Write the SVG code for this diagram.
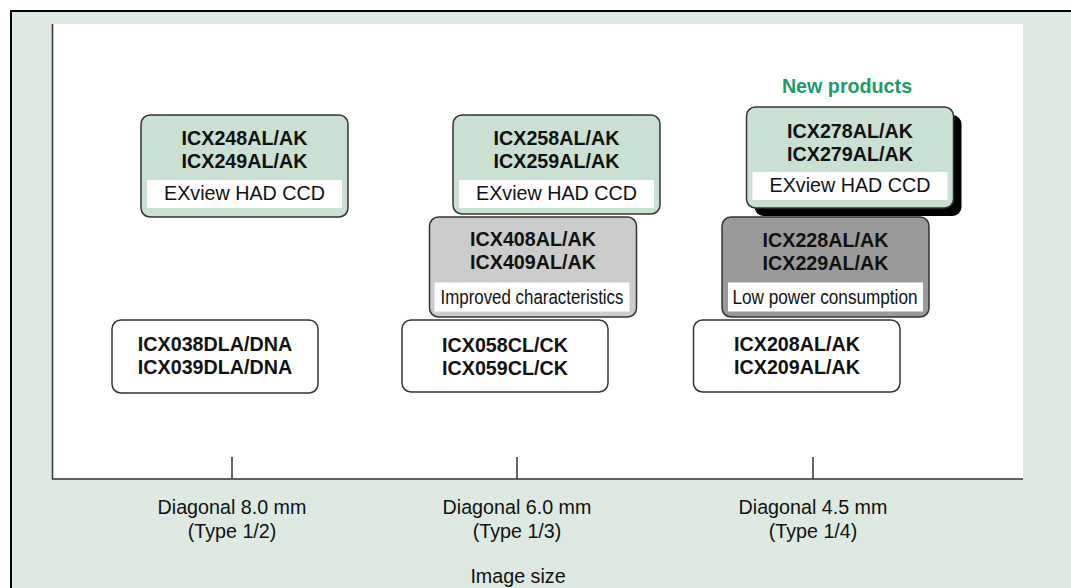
<svg xmlns="http://www.w3.org/2000/svg" width="1071" height="588" viewBox="0 0 1071 588">
<style>
text{font-family:"Liberation Sans",Arial,sans-serif;font-size:19.7px;fill:#111;text-anchor:middle}
.b{font-weight:bold}
.box{stroke:#333;stroke-width:1.5}
.g{fill:#c9e0d3}
.w{fill:#ffffff}
.lg{fill:#cccccc}
.dg{fill:#9a9a9a}
.strip{fill:#ffffff}
.ax{stroke:#333;stroke-width:1.5;fill:none}
</style>
<rect x="0" y="0" width="1071" height="588" fill="#ffffff"/>
<rect x="11" y="11" width="1080" height="600" fill="#dde9e1" stroke="#000" stroke-width="2"/>
<rect x="53" y="24" width="970" height="455" fill="#ffffff"/>
<g id="axes">
<path class="ax" d="M52.5 24 V479 H1023"/>
<path class="ax" d="M232 457 V479 M517 457 V479 M813 457 V479"/>
<text x="232" y="514">Diagonal 8.0 mm</text>
<text x="232" y="538">(Type 1/2)</text>
<text x="517" y="514">Diagonal 6.0 mm</text>
<text x="517" y="538">(Type 1/3)</text>
<text x="813" y="514">Diagonal 4.5 mm</text>
<text x="813" y="538">(Type 1/4)</text>
<text x="518" y="583">Image size</text>
</g>
<g id="connectors"></g>
<g id="n-icx038">
<rect class="box w" x="112" y="320" width="206" height="73" rx="9"/>
<text class="b" x="215" y="351">ICX038DLA/DNA</text>
<text class="b" x="215" y="374">ICX039DLA/DNA</text>
</g>
<g id="n-icx248">
<rect class="box g" x="141" y="115" width="207" height="102" rx="9"/>
<text class="b" x="244.5" y="145">ICX248AL/AK</text>
<text class="b" x="244.5" y="168">ICX249AL/AK</text>
<rect class="strip" x="147" y="180" width="195" height="28"/>
<text x="244.5" y="200">EXview HAD CCD</text>
</g>
<g id="n-icx058">
<rect class="box w" x="402" y="320" width="206" height="72" rx="9"/>
<text class="b" x="505" y="352">ICX058CL/CK</text>
<text class="b" x="505" y="375">ICX059CL/CK</text>
</g>
<g id="n-icx258">
<rect class="box g" x="453" y="115" width="207" height="99" rx="9"/>
<text class="b" x="556.5" y="145">ICX258AL/AK</text>
<text class="b" x="556.5" y="168">ICX259AL/AK</text>
<rect class="strip" x="459" y="180" width="195" height="28"/>
<text x="556.5" y="200">EXview HAD CCD</text>
</g>
<g id="n-icx408">
<rect class="box lg" x="429.5" y="217" width="207" height="100" rx="9"/>
<text class="b" x="533" y="246">ICX408AL/AK</text>
<text class="b" x="533" y="269">ICX409AL/AK</text>
<rect class="strip" x="434.5" y="282.5" width="195" height="29"/>
<text x="532" y="303.5" textLength="183" lengthAdjust="spacingAndGlyphs">Improved characteristics</text>
</g>
<g id="n-icx208">
<rect class="box w" x="693.5" y="320" width="206.5" height="72" rx="9"/>
<text class="b" x="797" y="351">ICX208AL/AK</text>
<text class="b" x="797" y="374">ICX209AL/AK</text>
</g>
<g id="n-icx228">
<rect class="box dg" x="722" y="217" width="207" height="100" rx="9"/>
<text class="b" x="825.5" y="247">ICX228AL/AK</text>
<text class="b" x="825.5" y="270">ICX229AL/AK</text>
<rect class="strip" x="728" y="282.5" width="195" height="29"/>
<text x="825" y="303.5" textLength="185" lengthAdjust="spacingAndGlyphs">Low power consumption</text>
</g>
<g id="n-icx278">
<text class="b" x="847" y="92.5" style="fill:#1e9a6c">New products</text>
<rect x="754.5" y="115" width="207" height="101" rx="9" fill="#000"/>
<rect class="box g" x="746.5" y="107" width="207" height="101" rx="9"/>
<text class="b" x="850" y="138">ICX278AL/AK</text>
<text class="b" x="850" y="161">ICX279AL/AK</text>
<rect class="strip" x="752.5" y="172" width="195" height="28"/>
<text x="850" y="192">EXview HAD CCD</text>
</g>
</svg>
